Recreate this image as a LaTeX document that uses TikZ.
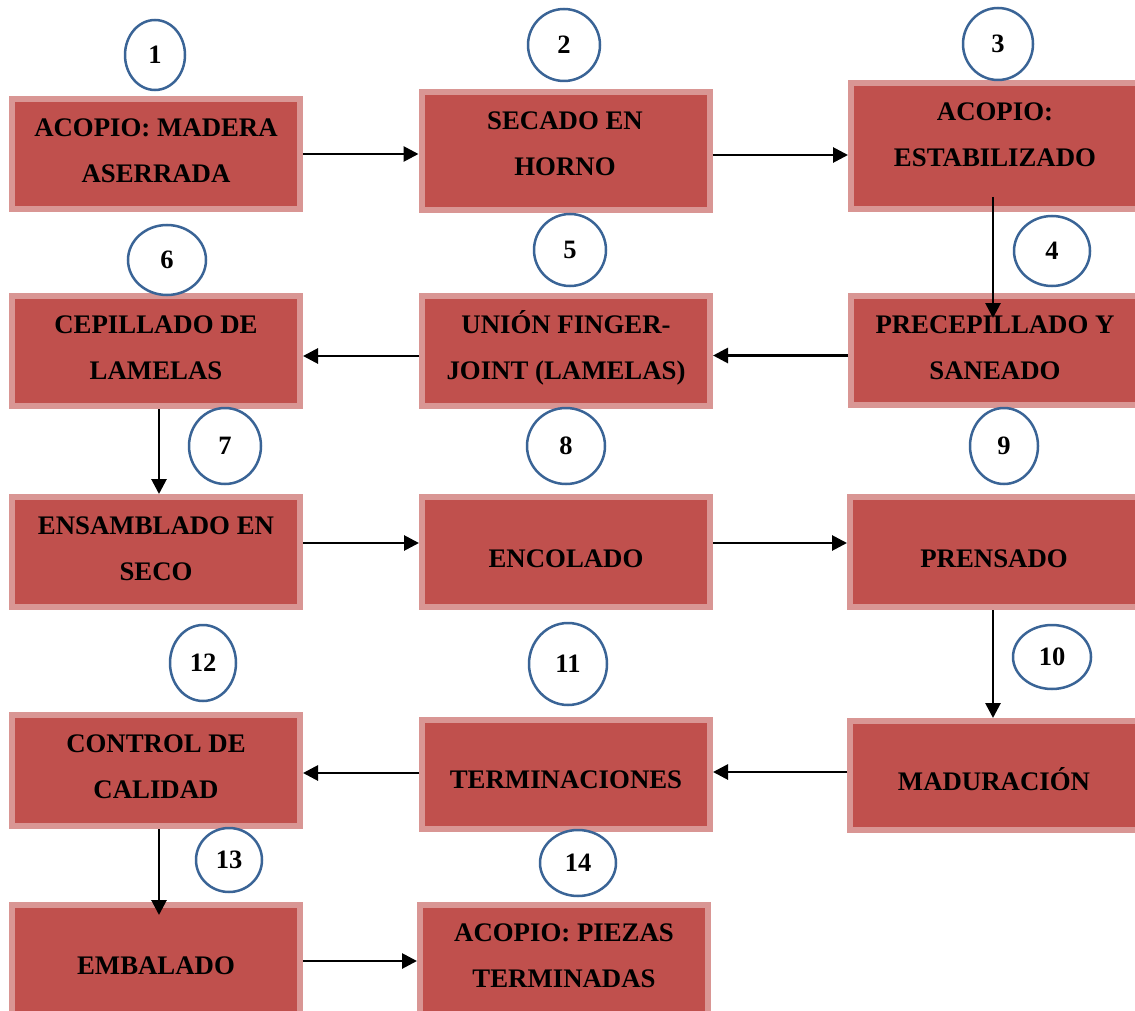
\documentclass[tikz,border=0pt]{standalone}
\usepackage{fontspec}
\setmainfont{Liberation Serif}
\usetikzlibrary{arrows.meta,shapes.geometric}
\definecolor{boxred}{HTML}{C0504D}
\definecolor{boxedge}{HTML}{D99694}
\definecolor{ringblue}{HTML}{3A6496}
\begin{document}
\begin{tikzpicture}[x=1pt,y=-1pt,
  procbox/.style={rectangle, draw=boxedge, fill=boxred, line width=6pt, minimum width=288pt, inner sep=0pt},
  proctext/.style={align=center, inner sep=0pt, font=\fontsize{26.8}{46}\selectfont\bfseries},
  stepnum/.style={ellipse, draw=ringblue, fill=white, line width=2.5pt, inner sep=0pt, font=\fontsize{26.5}{30}\selectfont\bfseries},
  flow/.style={-{Triangle[length=15pt,width=15pt]}, line width=2.8pt, black}]
\clip (0,0) rectangle (1135,1011);
\fill[white] (0,0) rectangle (1135,1011);

% process boxes
\node[procbox, minimum height=110pt] (b1) at (156,154) {};
\node[procbox, minimum height=118pt] (b2) at (565.5,151) {};
\node[procbox, minimum height=126pt] (b3) at (995,146) {};
\node[procbox, minimum height=109pt] (b4) at (995,350.5) {};
\node[procbox, minimum height=110pt] (b5) at (566,351) {};
\node[procbox, minimum height=110pt] (b6) at (156,351) {};
\node[procbox, minimum height=110pt] (b7) at (156,552) {};
\node[procbox, minimum height=110pt] (b8) at (566,552) {};
\node[procbox, minimum height=110pt] (b9) at (994,552) {};
\node[procbox, minimum height=109pt] (b10) at (994,775.5) {};
\node[procbox, minimum height=109pt] (b11) at (566,774.5) {};
\node[procbox, minimum height=111pt] (b12) at (156,770.5) {};
\node[procbox, minimum height=110pt] (b13) at (156,960) {};
\node[procbox, minimum height=110pt] (b14) at (564,960) {};

% box texts
\node[proctext] (t1) at (156,150.8) {\strut ACOPIO: MADERA\\\strut ASERRADA};
\node[proctext] (t2) at (565,143.8) {\strut SECADO EN\\\strut HORNO};
\node[proctext] (t3) at (995,134.3) {\strut ACOPIO:\\\strut ESTABILIZADO};
\node[proctext] (t4) at (995,346.8) {\strut PRECEPILLADO Y\\\strut SANEADO};
\node[proctext] (t5) at (566,346.8) {\strut UNIÓN FINGER-\\\strut JOINT (LAMELAS)};
\node[proctext] (t6) at (156,346.8) {\strut CEPILLADO DE\\\strut LAMELAS};
\node[proctext] (t7) at (156,547.8) {\strut ENSAMBLADO EN\\\strut SECO};
\node[proctext] (t8) at (566,557.8) {\strut ENCOLADO};
\node[proctext] (t9) at (994,557.8) {\strut PRENSADO};
\node[proctext] (t10) at (994,780.8) {\strut MADURACIÓN};
\node[proctext] (t11) at (566,778.8) {\strut TERMINACIONES};
\node[proctext] (t12) at (156,765.8) {\strut CONTROL DE\\\strut CALIDAD};
\node[proctext] (t13) at (156,964.8) {\strut EMBALADO};
\node[proctext] (t14) at (564,954.8) {\strut ACOPIO: PIEZAS\\\strut TERMINADAS};

% connectors
\draw[flow] (b1.east) -- (b1.east -| b2.west);
\draw[flow] ([yshift=-4pt]b2.east) -- ([yshift=-4pt]b2.east -| b3.west);
\draw[flow] ([xshift=-2pt,yshift=15pt]b3.south) -- ([xshift=-2pt,yshift=-25pt]b3.south |- b4.north);
\draw[flow] ([yshift=-5pt]b4.west) -- ([yshift=-5pt]b4.west -| b5.east);
\draw[flow] ([yshift=-5pt]b5.west) -- ([yshift=-5pt]b5.west -| b6.east);
\draw[flow] ([xshift=3pt]b6.south) -- ([xshift=3pt]b6.south |- b7.north);
\draw[flow] ([yshift=9pt]b7.east) -- ([yshift=9pt]b7.east -| b8.west);
\draw[flow] ([yshift=9pt]b8.east) -- ([yshift=9pt]b8.east -| b9.west);
\draw[flow] ([xshift=-1pt]b9.south) -- ([xshift=-1pt]b9.south |- b10.north);
\draw[flow] ([yshift=3.5pt]b10.west) -- ([yshift=3.5pt]b10.west -| b11.east);
\draw[flow] ([yshift=1.5pt]b11.west) -- ([yshift=1.5pt]b11.west -| b12.east);
\draw[flow] ([xshift=3pt]b12.south) -- ([xshift=3pt,yshift=-13pt]b12.south |- b13.north);
\draw[flow] ([yshift=-1pt]b13.east) -- ([yshift=-1pt]b13.east -| b14.west);

% step numbers
\node[stepnum, minimum width=60pt, minimum height=70pt] (n1) at (155,55) {1};
\node[stepnum, minimum width=72pt, minimum height=72pt] (n2) at (564,45) {2};
\node[stepnum, minimum width=70pt, minimum height=72pt] (n3) at (998,44) {3};
\node[stepnum, minimum width=76pt, minimum height=70pt] (n4) at (1052,251) {4};
\node[stepnum, minimum width=72pt, minimum height=72pt] (n5) at (570,250) {5};
\node[stepnum, minimum width=78pt, minimum height=70pt] (n6) at (167,260) {6};
\node[stepnum, minimum width=72pt, minimum height=76pt] (n7) at (225,446) {7};
\node[stepnum, minimum width=78pt, minimum height=76pt] (n8) at (566,446) {8};
\node[stepnum, minimum width=68pt, minimum height=76pt] (n9) at (1004,446) {9};
\node[stepnum, minimum width=78pt, minimum height=64pt] (n10) at (1052,657) {10};
\node[stepnum, minimum width=78pt, minimum height=82pt] (n11) at (568,664) {11};
\node[stepnum, minimum width=66pt, minimum height=76pt] (n12) at (203,663) {12};
\node[stepnum, minimum width=66pt, minimum height=64pt] (n13) at (229,860) {13};
\node[stepnum, minimum width=76pt, minimum height=66pt] (n14) at (578,863) {14};
\end{tikzpicture}
\end{document}
